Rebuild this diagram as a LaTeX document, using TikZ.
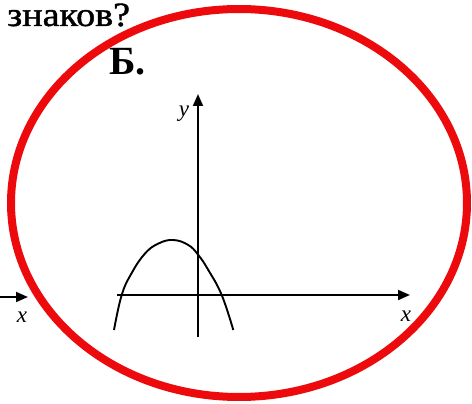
\documentclass[tikz,border=0pt]{standalone}
\usepackage{fontspec}
\setmainfont{Liberation Serif}
\newfontfamily\scanfont[FakeBold=1.2]{Liberation Serif}
\usetikzlibrary{arrows.meta,positioning}
\definecolor{RingRed}{RGB}{236, 10, 12}

\begin{document}
\begin{tikzpicture}[x=1pt, y=-1pt,
    axis/.style={line width=1.9pt, -{Triangle[length=12pt, width=10pt]}},
    curve/.style={line width=1.9pt},
    lbl/.style={inner sep=0pt, font=\fontsize{23}{23}\selectfont\itshape}]
  \useasboundingbox (0,0) rectangle (472,404);

  % Question text and item letter
  \node[anchor=base west, inner sep=0pt, xscale=1.12, font=\fontsize{34}{36}\scanfont] (question) at (7,26) {знаков?};
  \node[anchor=base west, inner sep=0pt, font=\fontsize{40}{40}\selectfont\bfseries] (item) at (109,75) {Б.};

  % Axes
  \coordinate (xstart) at (117,295);
  \coordinate (xend) at (410,295);
  \coordinate (ystart) at (198,337);
  \coordinate (yend) at (198,94);
  \draw[axis] (xstart) -- (xend);
  \draw[axis] (ystart) -- (yend);
  \node[lbl] (xlabel) at (406,316) {x};
  \node[lbl] (ylabel) at (184,114) {y};

  % Parabola
  \draw[curve] plot[smooth, tension=0.7] coordinates
    {(114,330) (121.7,295) (131.7,273) (145,253.5) (158.5,243.5) (173.3,240)
     (188.3,245) (198.3,255) (208.3,270) (221.7,295) (233.3,330)};

  % Axis of the neighbouring graph
  \coordinate (leftstart) at (-2,297);
  \coordinate (leftend) at (28,297);
  \draw[axis] (leftstart) -- (leftend);
  \node[lbl] (leftlabel) at (22,317) {x};

  % Red ring
  \draw[RingRed, line width=8pt] (239,203) ellipse (228 and 194);
\end{tikzpicture}
\end{document}
